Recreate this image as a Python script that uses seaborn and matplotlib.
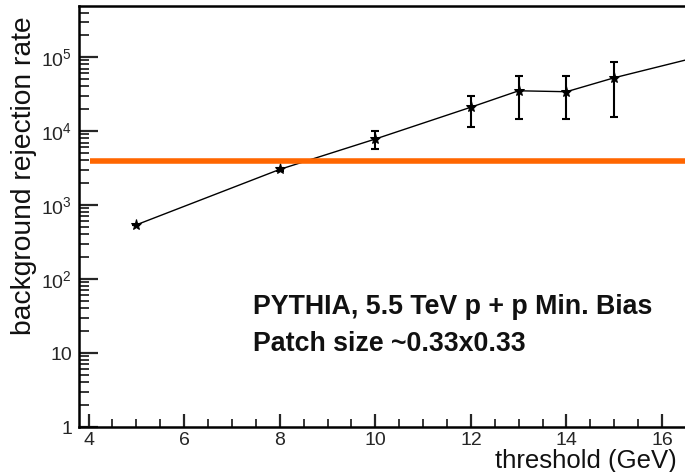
import numpy as np
import pandas as pd
import matplotlib
matplotlib.use("Agg")
import matplotlib.pyplot as plt
import seaborn as sns
from matplotlib.ticker import FixedLocator, FuncFormatter, MultipleLocator, LogLocator, NullFormatter

# data
threshold = [5, 8, 10, 12, 13, 14, 15, 17]
rejection = [540, 3030, 7800, 21000, 35000, 34000, 52500, 110000]
err_low = [0, 150, 2100, 9600, 20400, 19400, 36900, 0]
err_high = [0, 150, 2300, 8700, 20500, 21500, 33500, 0]
cut_level = 3950
cut_start = 4.03
xticks = [4, 6, 8, 10, 12, 14, 16]
title_lines = ["PYTHIA, 5.5 TeV p + p Min. Bias", "Patch size ~0.33x0.33"]

sns.set_theme(style="ticks")
plt.rcParams["font.family"] = ["Liberation Sans", "DejaVu Sans"]
plt.rcParams["mathtext.fontset"] = "custom"
plt.rcParams["mathtext.rm"] = "Liberation Sans"
plt.rcParams["mathtext.it"] = "Liberation Sans"

fig = plt.figure(figsize=(6.85, 4.72), dpi=100)
ax = fig.add_axes([79 / 685, 1 - 427 / 472, 1 - 79 / 685, (427 - 6) / 472])

df = pd.DataFrame({"x": threshold, "y": rejection})
sns.lineplot(data=df, x="x", y="y", ax=ax, color="black", linewidth=1.0,
             marker="*", markersize=8, markeredgecolor="black", zorder=3)
ax.errorbar(threshold, rejection, yerr=[err_low, err_high], fmt="none",
            ecolor="black", elinewidth=1.5, capsize=2.7, capthick=1.5, zorder=3)

xmin, xmax = 3.8, 16.48
ax.hlines(cut_level, cut_start, xmax + 1, color="#ff6600", linewidth=4.0, zorder=4)

ax.set_yscale("log")
ax.set_xlim(xmin, xmax)
ax.set_ylim(1, 10 ** 5.69)

def yfmt(v, pos):
    n = int(round(np.log10(v)))
    if n == 0:
        return "1"
    if n == 1:
        return "10"
    return r"$10^{%d}$" % n

ax.yaxis.set_major_locator(FixedLocator([1, 10, 100, 1e3, 1e4, 1e5]))
ax.yaxis.set_major_formatter(FuncFormatter(yfmt))
ax.yaxis.set_minor_locator(LogLocator(base=10, subs=np.arange(2, 10), numticks=20))
ax.yaxis.set_minor_formatter(NullFormatter())
ax.xaxis.set_major_locator(FixedLocator(xticks))
ax.xaxis.set_minor_locator(MultipleLocator(0.5))

ax.tick_params(axis="y", which="major", direction="in", length=14, width=1.6,
               labelsize=14, pad=5, left=True, right=False)
ax.tick_params(axis="y", which="minor", direction="in", length=7, width=1.3, left=True, right=False)
ax.tick_params(axis="x", which="major", direction="in", length=9.4, width=1.6,
               labelsize=14, pad=3.5, top=False)
ax.tick_params(axis="x", which="minor", direction="in", length=5.8, width=1.3, top=False)

for s in ["left", "bottom", "top"]:
    ax.spines[s].set_linewidth(1.8)
    ax.spines[s].set_color("black")
ax.spines["right"].set_visible(False)

ax.set_xlabel("")
ax.set_ylabel("")
fig.text(24 / 685, 1 - 176 / 472, "background rejection rate", rotation=90,
         ha="center", va="center", fontsize=20.3, color="#111111")
fig.text(677 / 685, 1 - 461 / 472, "threshold (GeV)", ha="right", va="center",
         fontsize=18.5, color="#111111")

fig.text(253 / 685, 1 - 307 / 472, title_lines[0], ha="left", va="center",
         fontsize=19.3, fontweight="bold", color="#111111")
fig.text(253 / 685, 1 - 344 / 472, title_lines[1], ha="left", va="center",
         fontsize=19.3, fontweight="bold", color="#111111")

fig.savefig("out.png", dpi=100)
